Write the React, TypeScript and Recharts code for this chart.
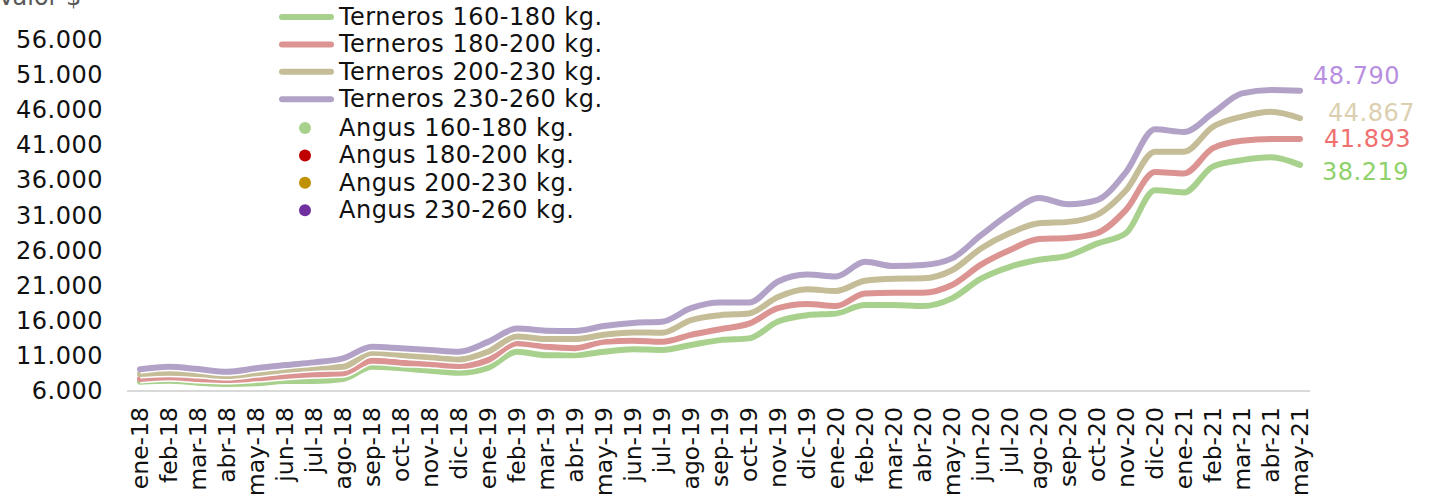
import { LineChart, Line, XAxis, YAxis, LabelList } from 'recharts';

const months = [
  'ene-18', 'feb-18', 'mar-18', 'abr-18', 'may-18', 'jun-18', 'jul-18', 'ago-18', 'sep-18', 'oct-18', 'nov-18', 'dic-18',
  'ene-19', 'feb-19', 'mar-19', 'abr-19', 'may-19', 'jun-19', 'jul-19', 'ago-19', 'sep-19', 'oct-19', 'nov-19', 'dic-19',
  'ene-20', 'feb-20', 'mar-20', 'abr-20', 'may-20', 'jun-20', 'jul-20', 'ago-20', 'sep-20', 'oct-20', 'nov-20', 'dic-20',
  'ene-21', 'feb-21', 'mar-21', 'abr-21', 'may-21',
];

const t160 = [
  7330, 7470, 7180, 7000, 7100, 7420, 7420, 7700, 9460, 9230, 8900, 8600,
  9300, 11600, 11100, 11100, 11600, 11950, 11850, 12550, 13250, 13500, 15900, 16800,
  17050, 18250, 18250, 18100, 19200, 22000, 23700, 24700, 25300, 27000, 28500, 34600,
  34300, 38000, 38900, 39300, 38219,
];
const t180 = [
  7700, 7950, 7700, 7560, 7800, 8140, 8380, 8520, 10300, 10040, 9850, 9560,
  10400, 12800, 12300, 12100, 13000, 13150, 13000, 14000, 14800, 15600, 17800, 18400,
  18100, 19900, 20000, 20000, 21100, 24000, 26100, 27650, 27800, 28500, 31800, 37200,
  37000, 40600, 41650, 41900, 41893,
];
const t200 = [
  8420, 8600, 8420, 8140, 8520, 9000, 9320, 9460, 11460, 11130, 10800, 10500,
  11600, 13750, 13400, 13400, 14000, 14350, 14300, 16100, 16800, 17050, 19400, 20500,
  20250, 21700, 22000, 22050, 23200, 26300, 28500, 29900, 30100, 31100, 34600, 40100,
  40100, 43650, 45100, 45800, 44867,
];
const t230 = [
  9100, 9460, 9130, 8750, 9230, 9700, 10080, 10650, 12300, 12080, 11840, 11600,
  13000, 14900, 14600, 14550, 15250, 15700, 15870, 17800, 18600, 18600, 21600, 22600,
  22300, 24400, 23800, 23950, 24900, 28200, 31300, 33500, 32600, 33200, 37200, 43300,
  42900, 45600, 48400, 48900, 48790,
];

const yTicks = [6000, 11000, 16000, 21000, 26000, 31000, 36000, 41000, 46000, 51000, 56000];

const lineNames = ['Terneros 160-180 kg.', 'Terneros 180-200 kg.', 'Terneros 200-230 kg.', 'Terneros 230-260 kg.'];
const dotNames = ['Angus 160-180 kg.', 'Angus 180-200 kg.', 'Angus 200-230 kg.', 'Angus 230-260 kg.'];

const lineColors = ['#a9d18e', '#dc9492', '#c4bd97', '#b3a2c7'];
const labelColors = ['#8fd16a', '#f07070', '#dccfb0', '#b88fe0'];
const dotColors = ['#a9d18e', '#c00000', '#bf9000', '#7030a0'];
const keys = ['t160', 't180', 't200', 't230'];
const labelOffsets = [
  { dx: 22, dy: 7 },
  { dx: 24, dy: 0 },
  { dx: 28, dy: -5 },
  { dx: 13, dy: -15 },
];

const data = months.map((m, i) => ({
  month: m,
  t160: t160[i],
  t180: t180[i],
  t200: t200[i],
  t230: t230[i],
}));

const FONT = 'DejaVu Sans';

const fmt = (v: number) => String(v).replace(/\B(?=(\d{3})+(?!\d))/g, '.');

const XTick = (props: any) => {
  const { x, y, payload } = props;
  return (
    <g transform={`translate(${x},${y})`}>
      <text
        transform="rotate(-90)"
        x={-16}
        y={0}
        textAnchor="end"
        dominantBaseline="central"
        fontFamily={FONT}
        fontSize={23.5}
        fill="#111"
      >
        {payload.value}
      </text>
    </g>
  );
};

const YTick = (props: any) => {
  const { x, y, payload } = props;
  return (
    <text
      x={x}
      y={y}
      textAnchor="end"
      dominantBaseline="central"
      fontFamily={FONT}
      fontSize={24}
      letterSpacing={0.5}
      fill="#111"
    >
      {fmt(payload.value)}
    </text>
  );
};

const endLabel = (idx: number) => (props: any) => {
  const { x, y, index } = props;
  if (index !== months.length - 1) return null;
  const o = labelOffsets[idx];
  return (
    <text
      x={x + o.dx}
      y={y + o.dy}
      dominantBaseline="central"
      fontFamily={FONT}
      fontSize={24}
      letterSpacing={0.5}
      fill={labelColors[idx]}
    >
      {fmt(data[index][keys[idx] as 't160'])}
    </text>
  );
};

export default function App() {
  return (
    <div style={{ position: 'absolute', left: 0, top: 0, width: 1432, height: 504, background: '#fff' }}>
      <LineChart
        width={1432}
        height={504}
        data={data}
        margin={{ top: 5, right: 122, bottom: 8, left: 10 }}
      >
        <XAxis
          dataKey="month"
          interval={0}
          tick={<XTick />}
          tickLine={false}
          tickSize={0}
          tickMargin={0}
          height={105}
          padding={{ left: 13, right: 10 }}
          axisLine={{ stroke: '#d9d9d9', strokeWidth: 2 }}
        />
        <YAxis
          domain={[6000, 61000]}
          ticks={yTicks}
          allowDataOverflow
          width={117}
          tickLine={false}
          axisLine={false}
          tickSize={0}
          tickMargin={24}
          tick={<YTick />}
        />
        {keys.map((k, i) => [
          <Line
            key={k + 'w'}
            dataKey={k}
            type="monotone"
            stroke="#ffffff"
            strokeWidth={9}
            dot={false}
            activeDot={false}
            isAnimationActive={false}
          />,
          <Line
            key={k}
            dataKey={k}
            type="monotone"
            stroke={lineColors[i]}
            strokeWidth={6}
            strokeLinecap="round"
            dot={false}
            activeDot={false}
            isAnimationActive={false}
          >
            <LabelList dataKey={k} content={endLabel(i)} />
          </Line>,
        ])}
      </LineChart>
      <svg
        width={1432}
        height={504}
        style={{ position: 'absolute', left: 0, top: 0, pointerEvents: 'none' }}
      >
        <text x={-2} y={5} fontFamily={FONT} fontSize={24} fill="#595959">
          Valor $
        </text>
        {lineNames.map((n, i) => {
          const cy = 17 + i * 27.4;
          return (
            <g key={n}>
              <line x1={282} x2={331} y1={cy} y2={cy} stroke={lineColors[i]} strokeWidth={6} strokeLinecap="round" />
              <text x={339} y={cy} dominantBaseline="central" fontFamily={FONT} fontSize={24} letterSpacing={0.5} fill="#111">
                {n}
              </text>
            </g>
          );
        })}
        {dotNames.map((n, i) => {
          const cy = 128 + i * 27.4;
          return (
            <g key={n}>
              <circle cx={305} cy={cy} r={6} fill={dotColors[i]} />
              <text x={339} y={cy} dominantBaseline="central" fontFamily={FONT} fontSize={24} letterSpacing={0.5} fill="#111">
                {n}
              </text>
            </g>
          );
        })}
      </svg>
    </div>
  );
}
